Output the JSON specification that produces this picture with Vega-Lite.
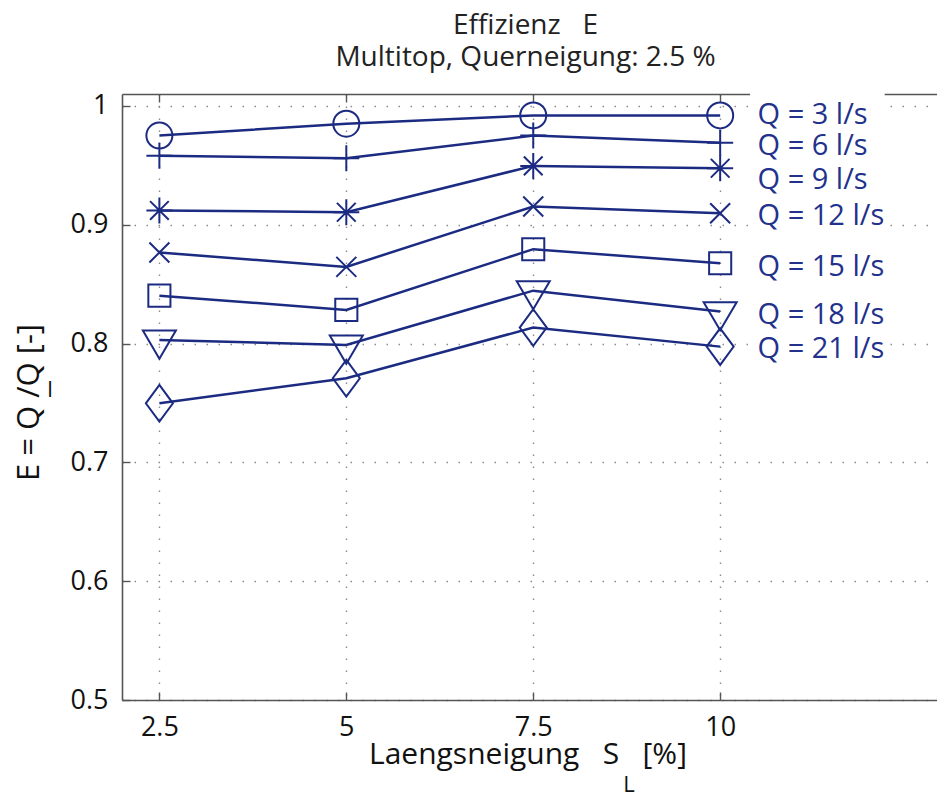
{
  "$schema": "https://vega.github.io/schema/vega-lite/v6.json",
  "width": 815,
  "height": 606,
  "autosize": {"type": "none"},
  "padding": {"left": 122, "top": 94, "right": 0, "bottom": 92},
  "background": "white",
  "config": {
    "view": {"stroke": null},
    "font": "Open Sans"
  },
  "title": {
    "text": ["Effizienz\u00a0\u00a0\u00a0E", "Multitop, Querneigung: 2.5 %"],
    "anchor": "middle",
    "font": "Open Sans",
    "fontSize": 28,
    "fontWeight": "normal",
    "color": "#222222",
    "lineHeight": 32,
    "baseline": "bottom",
    "offset": 23,
    "dx": -4,
    "dy": 33
  },
  "datasets": {
    "series": [
      {"Q": "3", "S": 2.5, "E": 0.975},
      {"Q": "3", "S": 5, "E": 0.985},
      {"Q": "3", "S": 7.5, "E": 0.992},
      {"Q": "3", "S": 10, "E": 0.992},
      {"Q": "6", "S": 2.5, "E": 0.958},
      {"Q": "6", "S": 5, "E": 0.956},
      {"Q": "6", "S": 7.5, "E": 0.975},
      {"Q": "6", "S": 10, "E": 0.969},
      {"Q": "9", "S": 2.5, "E": 0.912},
      {"Q": "9", "S": 5, "E": 0.9105},
      {"Q": "9", "S": 7.5, "E": 0.9495},
      {"Q": "9", "S": 10, "E": 0.9475},
      {"Q": "12", "S": 2.5, "E": 0.8766},
      {"Q": "12", "S": 5, "E": 0.8645},
      {"Q": "12", "S": 7.5, "E": 0.9153},
      {"Q": "12", "S": 10, "E": 0.9097},
      {"Q": "15", "S": 2.5, "E": 0.8403},
      {"Q": "15", "S": 5, "E": 0.8283},
      {"Q": "15", "S": 7.5, "E": 0.8794},
      {"Q": "15", "S": 10, "E": 0.8676},
      {"Q": "18", "S": 2.5, "E": 0.803},
      {"Q": "18", "S": 5, "E": 0.7988},
      {"Q": "18", "S": 7.5, "E": 0.8445},
      {"Q": "18", "S": 10, "E": 0.8269},
      {"Q": "21", "S": 2.5, "E": 0.7497},
      {"Q": "21", "S": 5, "E": 0.7708},
      {"Q": "21", "S": 7.5, "E": 0.8134},
      {"Q": "21", "S": 10, "E": 0.7974}
    ],
    "labels": [
      {"text": "Q = 3 l/s", "S": 10.5, "E": 0.992},
      {"text": "Q = 6 l/s", "S": 10.5, "E": 0.966},
      {"text": "Q = 9 l/s", "S": 10.5, "E": 0.938},
      {"text": "Q = 12 l/s", "S": 10.5, "E": 0.907},
      {"text": "Q = 15 l/s", "S": 10.5, "E": 0.864},
      {"text": "Q = 18 l/s", "S": 10.5, "E": 0.824},
      {"text": "Q = 21 l/s", "S": 10.5, "E": 0.795}
    ]
  },
  "resolve": {"axis": {"x": "independent"}},
  "layer": [
    {
      "data": {"values": [{}]},
      "mark": {"type": "rect", "color": "white"},
      "encoding": {
        "x": {
          "datum": 10.4,
          "type": "quantitative",
          "scale": {"domain": [2, 12.9], "nice": false, "zero": false},
          "axis": {
            "orient": "top",
            "values": [2.5, 5, 7.5, 10],
            "labels": false,
            "grid": false,
            "title": null,
            "domainColor": "#555555",
            "domainWidth": 1.6,
            "tickColor": "#555555",
            "tickWidth": 1.4,
            "tickSize": -8
          }
        },
        "x2": {"datum": 12.2},
        "y": {
          "datum": 0.782,
          "type": "quantitative",
          "scale": {"domain": [0.5, 1.01], "nice": false, "zero": false}
        },
        "y2": {"datum": 1.013}
      }
    },
    {
      "data": {"name": "series"},
      "mark": {"type": "line", "color": "#1c2b82", "strokeWidth": 2.5},
      "encoding": {
        "x": {
          "field": "S",
          "type": "quantitative",
          "scale": {"domain": [2, 12.9], "nice": false, "zero": false},
          "axis": {
            "orient": "bottom",
            "values": [2.5, 5, 7.5, 10],
            "format": "~g",
            "grid": true,
            "gridColor": "#8c8c8c",
            "gridDash": [1.5, 10.5],
            "gridWidth": 1.4,
            "domainColor": "#555555",
            "domainWidth": 1.6,
            "tickColor": "#555555",
            "tickWidth": 1.4,
            "tickSize": -8,
            "labelFont": "Open Sans",
            "labelFontSize": 27,
            "labelColor": "#111111",
            "labelPadding": 22,
            "labelBaseline": "top",
            "title": "Laengsneigung\u00a0\u00a0\u00a0S\u00a0\u00a0\u00a0[%]",
            "titleFont": "Open Sans",
            "titleFontSize": 30,
            "titleFontWeight": "normal",
            "titleColor": "#111111",
            "titleBaseline": "alphabetic",
            "titleAlign": "center",
            "titleX": 405.5,
            "titleY": 63
          }
        },
        "y": {
          "field": "E",
          "type": "quantitative",
          "scale": {"domain": [0.5, 1.01], "nice": false, "zero": false},
          "axis": {
            "values": [0.5, 0.6, 0.7, 0.8, 0.9, 1],
            "format": ".1~f",
            "grid": true,
            "gridColor": "#8c8c8c",
            "gridDash": [1.5, 10.5],
            "gridWidth": 1.4,
            "domainColor": "#555555",
            "domainWidth": 1.6,
            "tickColor": "#555555",
            "tickWidth": 1.4,
            "tickSize": -8,
            "labelFont": "Open Sans",
            "labelFontSize": 27,
            "labelColor": "#111111",
            "labelPadding": 22,
            "title": "E\u00a0=\u00a0Q\u00a0/Q\u00a0[-]",
            "titleFont": "Open Sans",
            "titleFontSize": 31,
            "titleFontWeight": "normal",
            "titleColor": "#111111",
            "titleAngle": 270,
            "titleBaseline": "alphabetic",
            "titleAlign": "center",
            "titleX": -84,
            "titleY": 308
          }
        },
        "detail": {"field": "Q", "type": "nominal"},
        "order": {"field": "S", "type": "quantitative"}
      }
    },
    {
      "data": {"name": "series"},
      "mark": {"type": "point", "filled": false, "color": "#1c2b82", "strokeWidth": 2, "size": 676, "opacity": 1},
      "encoding": {
        "x": {"field": "S", "type": "quantitative", "scale": {"domain": [2, 12.9], "nice": false, "zero": false}, "axis": null},
        "y": {"field": "E", "type": "quantitative", "scale": {"domain": [0.5, 1.01], "nice": false, "zero": false}},
        "shape": {
          "field": "Q",
          "type": "nominal",
          "legend": null,
          "scale": {
            "domain": ["3", "6", "9", "12", "15", "18", "21"],
            "range": [
              "circle",
              "M-1,0H1M0,-1V1",
              "M-1,0H1M0,-1V1M-0.72,-0.72L0.72,0.72M-0.72,0.72L0.72,-0.72",
              "M-0.77,-0.77L0.77,0.77M-0.77,0.77L0.77,-0.77",
              "M-0.85,-0.85H0.85V0.85H-0.85Z",
              "M-1.27,-0.72H1.27L0,1.44Z",
              "M0,-1.41L1.04,0L0,1.41L-1.04,0Z"
            ]
          }
        }
      }
    },
    {
      "data": {"name": "labels"},
      "mark": {"type": "text", "align": "left", "baseline": "middle", "font": "Open Sans", "fontSize": 29, "color": "#22318c"},
      "encoding": {
        "x": {"field": "S", "type": "quantitative", "scale": {"domain": [2, 12.9], "nice": false, "zero": false}, "axis": null},
        "y": {"field": "E", "type": "quantitative", "scale": {"domain": [0.5, 1.01], "nice": false, "zero": false}},
        "text": {"field": "text"}
      }
    },
    {
      "data": {"values": [{"sub": "L", "S": 8.781, "E": 0.4285}, {"sub": "I", "S": 1.037, "E": 0.7609}]},
      "mark": {"type": "text", "align": "center", "baseline": "middle", "font": "Open Sans", "fontSize": 22, "color": "#111111"},
      "encoding": {
        "x": {"field": "S", "type": "quantitative", "scale": {"domain": [2, 12.9], "nice": false, "zero": false}, "axis": null},
        "y": {"field": "E", "type": "quantitative", "scale": {"domain": [0.5, 1.01], "nice": false, "zero": false}},
        "text": {"field": "sub"}
      }
    }
  ]
}
